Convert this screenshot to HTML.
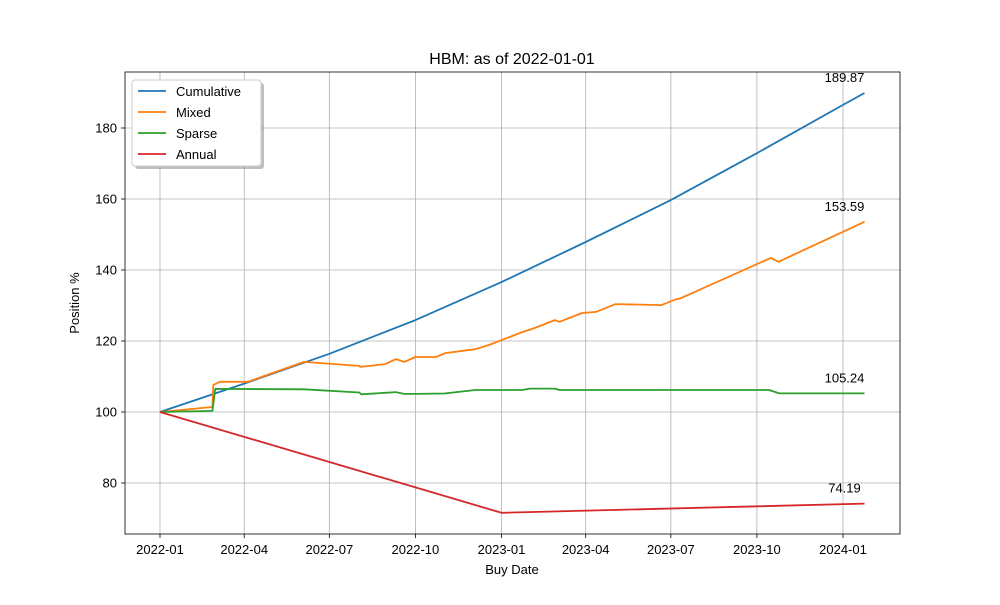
<!DOCTYPE html>
<html><head><meta charset="utf-8"><style>
body{margin:0;background:#fff}
svg{font-family:"Liberation Sans",sans-serif}
</style></head><body>
<svg id="c" width="1000" height="600"></svg>
<script>
const tickDates=["2022-01","2022-04","2022-07","2022-10","2023-01","2023-04","2023-07","2023-10","2024-01"];
const yTicks=[80,100,120,140,160,180];
const cumDates=["2022-01-01","2022-04-01","2022-07-01","2022-10-01","2023-01-01","2023-04-01","2023-07-01","2023-10-01","2024-01-01","2024-01-24"];
const cumVals=[100,108,116.4,125.9,136.6,147.9,159.7,172.9,186.5,189.87];
const mixDates=["2022-01-01","2022-02-26","2022-02-27","2022-03-06","2022-04-05","2022-06-04","2022-08-02","2022-08-03","2022-08-30","2022-09-10","2022-09-19","2022-10-01","2022-10-23","2022-11-02","2022-12-04","2022-12-19","2023-01-23","2023-02-03","2023-02-27","2023-03-04","2023-03-28","2023-04-12","2023-05-03","2023-06-21","2023-07-07","2023-07-10","2023-10-16","2023-10-24","2024-01-24"];
const mixVals=[100,101.4,107.6,108.5,108.5,114.1,113.0,112.7,113.5,114.9,114.1,115.5,115.5,116.6,117.7,118.9,122.5,123.4,125.9,125.4,127.9,128.2,130.4,130.1,131.8,131.9,143.4,142.3,153.59];
const spDates=["2022-01-01","2022-02-26","2022-03-01","2022-06-04","2022-08-02","2022-08-04","2022-08-30","2022-09-10","2022-09-19","2022-10-01","2022-11-01","2022-12-04","2023-01-23","2023-01-31","2023-02-27","2023-03-04","2023-10-14","2023-10-25","2024-01-24"];
const spVals=[100,100.3,106.5,106.4,105.5,105.0,105.4,105.6,105.1,105.1,105.2,106.2,106.2,106.6,106.6,106.2,106.2,105.24,105.24];
const annDates=["2022-01-01","2023-01-01","2024-01-24"];
const annVals=[100,71.6,74.19];
const series=[["Cumulative","#1f77b4",cumDates,cumVals],["Mixed","#ff7f0e",mixDates,mixVals],["Sparse","#2ca02c",spDates,spVals],["Annual","#d62728",annDates,annVals]];
const NS="http://www.w3.org/2000/svg",svg=document.getElementById("c");
const t0=Date.UTC(2022,0,1);
function X(d){const p=d.split("-");const t=Date.UTC(+p[0],+p[1]-1,p[2]?+p[2]:1);return 160+(t-t0)/86400000*0.9356;}
function Y(v){return 412-(v-100)*3.55;}
function el(tag,a,txt){const e=document.createElementNS(NS,tag);for(const k in a)e.setAttribute(k,a[k]);if(txt!==undefined)e.textContent=txt;svg.appendChild(e);return e;}
let e;
tickDates.forEach(d=>{const x=X(d);
e=el("line",{x1:x,x2:x,y1:72,y2:534,stroke:"#b0b0b0","stroke-width":0.8});

e=el("line",{x1:x,x2:x,y1:534,y2:538,stroke:"#000","stroke-width":0.8});

e=el("text",{x:x,y:554,"font-size":13,"text-anchor":"middle"},d);
});
yTicks.forEach(v=>{const y=Y(v);
e=el("line",{x1:125,x2:900,y1:y,y2:y,stroke:"#b0b0b0","stroke-width":0.8});

e=el("line",{x1:121,x2:125,y1:y,y2:y,stroke:"#000","stroke-width":0.8});

e=el("text",{x:117,y:y+4.5,"font-size":13,"text-anchor":"end"},v);
});
series.forEach(s=>{const pts=s[2].map((d,i)=>X(d).toFixed(1)+","+Y(s[3][i]).toFixed(1)).join(" ");
e=el("polyline",{points:pts,fill:"none",stroke:s[1],"stroke-width":1.8,"stroke-linejoin":"round"});

const n=s[3].length-1;
e=el("text",{x:X(s[2][n])-20,y:Y(s[3][n])-11,"font-size":13,"text-anchor":"middle"},s[3][n].toFixed(2));
});
e=el("rect",{x:125,y:72,width:775,height:462,fill:"none",stroke:"#000","stroke-width":0.8});

e=el("text",{x:512,y:64,"font-size":16,"text-anchor":"middle"},"HBM: as of 2022-01-01");

e=el("text",{x:512,y:574,"font-size":13,"text-anchor":"middle"},"Buy Date");

e=el("text",{x:79,y:303,"font-size":13,"text-anchor":"middle",transform:"rotate(-90 79 303)"},"Position %");

e=el("rect",{x:135,y:83,width:129,height:86,rx:3,fill:"#808080",opacity:0.5});

e=el("rect",{x:132,y:80,width:129,height:86,rx:3,fill:"#fff",stroke:"#ccc"});

series.forEach((s,i)=>{const y=91+i*21;
e=el("line",{x1:138,x2:166,y1:y,y2:y,stroke:s[1],"stroke-width":1.8});

e=el("text",{x:176,y:y+5,"font-size":13},s[0]);
});
</script>
</body></html>
